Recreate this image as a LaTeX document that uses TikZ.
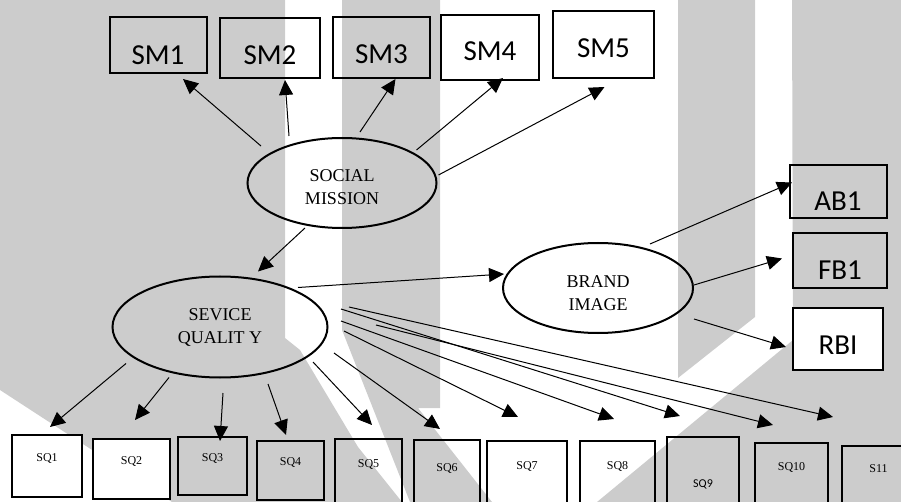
\documentclass[tikz,border=0pt]{standalone}
\usepackage{fontspec}
\setmainfont{Liberation Serif}
\newfontfamily\calibri{Carlito}
\usetikzlibrary{shapes.geometric,arrows.meta}
\definecolor{wmgrey}{RGB}{204,204,204}

\begin{document}
\begin{tikzpicture}[x=1pt,y=-1pt,>={Triangle[length=15pt,width=14pt]}]
    % Styles
    \tikzstyle{smbox} = [rectangle, draw, line width=2pt, inner sep=0pt,
                         font=\calibri\fontsize{29}{34}\selectfont, text depth=0pt]
    \tikzstyle{sqbox} = [rectangle, draw, line width=2pt, inner sep=0pt,
                         font=\fontsize{12}{14}\selectfont, text height=8pt, text depth=18pt]
    \tikzstyle{latent} = [ellipse, draw, line width=2pt, inner sep=0pt,
                          align=center, font=\fontsize{18}{23}\selectfont]
    \tikzstyle{arrow} = [->, line width=1pt]
    \tikzstyle{band} = [fill=wmgrey]

    \useasboundingbox (0,0) rectangle (901,502);
    \clip (0,0) rectangle (901,502);

    % ==== Grey bands behind ====
    \fill[band] (0,0) -- (285,0) -- (285,338) -- (300,350) -- (358,447) -- (402,502)
                -- (172,502) -- (0,390) -- cycle;
    \fill[band] (342,0) -- (440,0) -- (440,408) -- (418,408) -- (492,502) -- (410,502)
                -- (342,330) -- cycle;
    \fill[band] (678,0) -- (755,0) -- (755,317) -- (678,378) -- cycle;
    \fill[band] (792,0) -- (901,0) -- (901,502) -- (597,502) -- (793,340) -- cycle;

    % ==== Social mission indicators ====
    \node[smbox, minimum width=97pt, minimum height=56pt, text height=39pt] (sm1) at (158,45) {SM1};
    \node[smbox, minimum width=100pt, minimum height=60pt, text height=33pt] (sm2) at (270,48) {SM2};
    \node[smbox, minimum width=97pt, minimum height=61pt, text height=33pt] (sm3) at (381.5,47.5) {SM3};
    \node[smbox, minimum width=98pt, minimum height=65pt, text height=26pt] (sm4) at (490,47.5) {SM4};
    \node[smbox, minimum width=101pt, minimum height=67pt, text height=26pt] (sm5) at (603.5,44.5) {SM5};

    % ==== Latent constructs ====
    \node[latent, minimum width=189pt, minimum height=90pt, text height=44pt] (sm) at (342,183) {SOCIAL\\MISSION};
    \node[latent, minimum width=215pt, minimum height=101pt] (sq) at (220,327) {SEVICE\\QUALIT Y};
    \node[latent, minimum width=190pt, minimum height=90pt, text height=46pt] (bi) at (598,288) {BRAND\\IMAGE};

    % ==== Brand image indicators ====
    \node[smbox, minimum width=97pt, minimum height=53pt, text height=38pt] (ab1) at (838,191.5) {AB1};
    \node[smbox, minimum width=94pt, minimum height=55pt, text height=38pt] (fb1) at (840,260.5) {FB1};
    \node[smbox, fill=white, minimum width=90pt, minimum height=62pt, text height=31pt] (rbi) at (838,339) {RBI};

    % ==== Service quality indicators ====
    \node[sqbox, fill=white, minimum width=70pt, minimum height=62pt] (sq1) at (47,466) {SQ1};
    \node[sqbox, fill=white, minimum width=77pt, minimum height=60pt] (sq2) at (131.5,469) {SQ2};
    \node[sqbox, minimum width=69pt, minimum height=58pt] (sq3) at (212.5,466) {SQ3};
    \node[sqbox, minimum width=67pt, minimum height=59pt] (sq4) at (290.5,470.5) {SQ4};
    \node[sqbox, minimum width=67pt, minimum height=66pt] (sq5) at (368.5,472) {SQ5};
    \node[sqbox, minimum width=66pt, minimum height=72pt] (sq6) at (447,476) {SQ6};
    \node[sqbox, minimum width=80pt, minimum height=66pt] (sq7) at (527,474) {SQ7};
    \node[sqbox, minimum width=75pt, minimum height=66pt] (sq8) at (617.5,474) {SQ8};
    \node[sqbox, font=\calibri\fontsize{12}{14}\selectfont, minimum width=72pt, minimum height=110pt] (sq9) at (703,492) {SQ9};
    \node[sqbox, minimum width=73pt, minimum height=64pt] (sq10) at (791.5,475) {SQ10};
    \node[sqbox, minimum width=73pt, minimum height=62pt] (s11) at (878.5,477) {S11};

    % ==== Arrows ====
    \draw[arrow] ([shift={(-81,9)}]sm.north) -- ([shift={(25,5)}]sm1.south);
    \draw[arrow] ([shift={(-53,-1)}]sm.north) -- ([shift={(15,1)}]sm2.south);
    \draw[arrow] ([shift={(18,-5)}]sm.north) -- ([shift={(14,0)}]sm3.south);
    \draw[arrow] ([shift={(-21,-33)}]sm.east) -- ([shift={(13,-3)}]sm4.south);
    \draw[arrow] ([shift={(1,-8)}]sm.east) -- ([shift={(1,8)}]sm5.south);

    % Social mission -> service quality -> brand image
    \draw[arrow] ([shift={(-37,-1)}]sm.south) -- ([shift={(38,-4)}]sq.north);
    \draw[arrow] ([shift={(78,12)}]sq.north) -- ([shift={(2,-14)}]bi.west);

    % Brand image to its indicators
    \draw[arrow] ([shift={(52,2)}]bi.north) -- ([shift={(3.5,-9)}]ab1.west);
    \draw[arrow] ([shift={(0,-3)}]bi.east) -- ([shift={(-10,-2)}]fb1.west);
    \draw[arrow] ([shift={(0,31)}]bi.east) -- ([shift={(-6,8)}]rbi.west);

    % Service quality fan-out
    \draw[arrow] ([shift={(-94,-15)}]sq.south) -- ([shift={(3,-7)}]sq1.north);
    \draw[arrow] ([shift={(-51,-1)}]sq.south) -- ([shift={(3.5,-18)}]sq2.north);
    \draw[arrow] ([shift={(3,14.5)}]sq.south) -- ([shift={(7.5,5)}]sq3.north);
    \draw[arrow] ([shift={(48,5.5)}]sq.south) -- ([shift={(-4.5,-5)}]sq4.north);
    \draw[arrow] ([shift={(-15.5,35)}]sq.east) -- ([shift={(3.5,-13)}]sq5.north);
    \draw[arrow] ([shift={(5.5,26)}]sq.east) -- ([shift={(-7,-10)}]sq6.north);
    \draw[arrow] ([shift={(15.5,4)}]sq.east) -- ([shift={(-9,-23)}]sq7.north);
    \draw[arrow] ([shift={(12.5,-6)}]sq.east) -- ([shift={(-3.5,-21)}]sq8.north);
    \draw[arrow] ([shift={(12.5,-18)}]sq.east) -- ([shift={(-23,-20)}]sq9.north);
    \draw[arrow] ([shift={(47.5,-2)}]sq.east) -- ([shift={(-18.5,-17)}]sq10.north);
    \draw[arrow] ([shift={(20.5,-20)}]sq.east) -- ([shift={(-45.5,-28)}]s11.north);
\end{tikzpicture}
\end{document}
